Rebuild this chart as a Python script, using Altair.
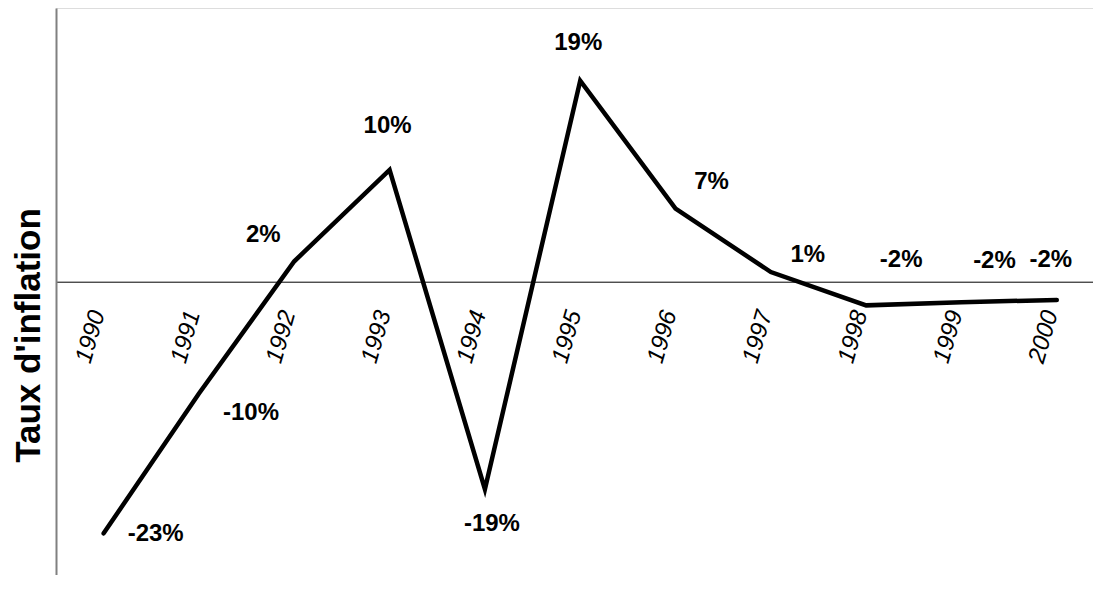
import altair as alt
import pandas as pd

# ---- data ----
years = [1990, 1991, 1992, 1993, 1994, 1995, 1996, 1997, 1998, 1999, 2000]
inflation = [-23.4, -10.4, 1.9, 10.4, -19.3, 18.7, 6.8, 0.9, -2.2, -1.9, -1.7]
tick_years = years

# label placement relative to each point (pixels: right, down)
label_offsets = {
    1990: (52, 1), 1991: (52, 19), 1992: (-31, -26), 1993: (-2, -44),
    1994: (7, 35), 1995: (-2, -38), 1996: (36, -27), 1997: (37, -17),
    1998: (35, -45), 1999: (33, -41), 2000: (-6, -40),
}

df = pd.DataFrame({"year": years, "value": inflation})
df["label"] = [f"{round(v)}%" for v in inflation]

FONT = "Liberation Sans"
W, H = 1037, 567

x_scale = alt.Scale(domain=[1989.5, 2000.38], nice=False, zero=False)
y_scale = alt.Scale(domain=[-27.28, 25.46], nice=False, zero=False)

base = alt.Chart(df)

line = base.mark_line(color="black", strokeWidth=4.5, strokeJoin="miter", strokeCap="round").encode(
    x=alt.X("year:Q", scale=x_scale,
            axis=alt.Axis(values=tick_years, format="d", orient="bottom", offset=-293.3,
                          grid=False, ticks=False, tickSize=0, domainColor="black", domainWidth=1,
                          labelAngle=286, labelAlign="right", labelBaseline="middle",
                          labelPadding=29, labelOffset=-6, labelFont=FONT, labelFontSize=24,
                          labelFontStyle="italic", labelColor="black", labelOverlap=False,
                          labelFlush=False, labelBound=False, title=None)),
    y=alt.Y("value:Q", scale=y_scale,
            axis=alt.Axis(grid=False, ticks=False, labels=False, domainColor="#808080",
                          domainWidth=2, title="Taux d'inflation", titleFont=FONT,
                          titleFontSize=35, titleFontWeight="bold", titleColor="black",
                          titleAngle=270, titleX=-28, titleY=327, titleAlign="center",
                          titleBaseline="middle")),
)

layers = [line]
for yr in years:
    dx, dy = label_offsets[yr]
    layers.append(
        base.transform_filter(alt.datum.year == yr).mark_text(
            font=FONT, fontSize=24, fontWeight="bold", color="black",
            align="center", baseline="middle", dx=dx, dy=dy,
        ).encode(
            x=alt.X("year:Q", scale=x_scale),
            y=alt.Y("value:Q", scale=y_scale),
            text="label:N",
        )
    )

chart = alt.layer(*layers).properties(
    width=W, height=H,
    autosize=alt.AutoSizeParams(type="none"),
    padding={"left": 48, "top": 0, "right": 0, "bottom": 0},
).configure_view(stroke=None).configure(background="white")

chart.save("out.html", embed_options={"renderer": "svg", "actions": False})
